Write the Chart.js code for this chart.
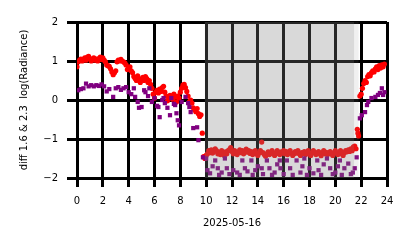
<!DOCTYPE html>
<html><head><meta charset="utf-8">
<script src="https://cdn.jsdelivr.net/npm/chart.js@4"></script>
<style>html,body{margin:0;padding:0;background:#fff}#w{width:414px;height:248px}</style>
</head><body><div id="w"><canvas id="c" width="414" height="248"></canvas></div>
<script>
const xTicks = [0,2,4,6,8,10,12,14,16,18,20,22,24];
const yTicks = [-2,-1,0,1,2];
const xTitle = "2025-05-16";
const yTitle = "diff 1.6 & 2.3  log(Radiance)";
const nightSpan = [9.9, 21.45];
const twilightSpan = [21.45, 21.8];

const redHours = [
0.0,0.1,0.2,0.3,0.4,0.5,0.6,0.7,0.8,0.9,
1.0,1.1,1.2,1.3,1.4,1.5,1.6,1.7,1.8,1.9,
2.0,2.1,2.2,2.3,2.4,2.5,2.6,2.7,2.8,2.9,
3.0,3.1,3.2,3.3,3.4,3.5,3.6,3.7,3.8,3.9,
4.0,4.1,4.2,4.3,4.4,4.5,4.6,4.7,4.8,4.9,
5.0,5.1,5.2,5.3,5.4,5.5,5.6,5.7,5.8,5.9,
6.0,6.1,6.2,6.3,6.4,6.5,6.6,6.7,6.8,6.9,
7.0,7.1,7.2,7.3,7.4,7.5,7.6,7.7,7.8,7.9,
8.0,8.1,8.2,8.3,8.4,8.5,8.6,8.7,8.8,8.9,
9.0,9.1,9.2,9.3,9.4,9.5,9.6,9.7,9.8,9.9,
10.0,10.1,10.2,10.3,10.4,10.5,10.6,10.7,10.8,10.9,
11.0,11.1,11.2,11.3,11.4,11.5,11.6,11.7,11.8,11.9,
12.0,12.1,12.2,12.3,12.4,12.5,12.6,12.7,12.8,12.9,
13.0,13.1,13.2,13.3,13.4,13.5,13.6,13.7,13.8,13.9,
14.0,14.1,14.2,14.3,14.4,14.5,14.6,14.7,14.8,14.9,
15.0,15.1,15.2,15.3,15.4,15.5,15.6,15.7,15.8,15.9,
16.0,16.1,16.2,16.3,16.4,16.5,16.6,16.7,16.8,16.9,
17.0,17.1,17.2,17.3,17.4,17.5,17.6,17.7,17.8,17.9,
18.0,18.1,18.2,18.3,18.4,18.5,18.6,18.7,18.8,18.9,
19.0,19.1,19.2,19.3,19.4,19.5,19.6,19.7,19.8,19.9,
20.0,20.1,20.2,20.3,20.4,20.5,20.6,20.7,20.8,20.9,
21.0,21.1,21.2,21.3,21.4,21.5,21.6,21.7,21.75,21.8,21.9,
22.0,22.1,22.2,22.3,22.4,22.5,22.6,22.7,22.8,22.9,
23.0,23.1,23.2,23.3,23.4,23.5,23.6,23.7,23.8
];
const redValues = [
0.85,0.98,1.02,1.05,1.00,1.04,1.08,1.02,1.10,1.12,
1.06,1.00,1.04,1.08,1.02,1.05,1.00,1.06,1.10,1.04,
1.08,1.02,0.98,0.90,0.88,0.86,0.80,0.72,0.65,0.70,
0.75,0.98,1.02,1.00,1.04,1.00,0.98,0.95,0.90,0.78,
0.82,0.85,0.75,0.70,0.60,0.55,0.50,0.62,0.55,0.45,
0.52,0.58,0.50,0.60,0.55,0.45,0.50,0.40,0.30,0.15,
0.05,0.20,0.25,0.18,0.28,0.22,0.32,0.35,0.20,0.10,
-0.02,0.05,0.12,0.10,0.02,0.15,0.08,-0.05,0.10,0.05,
0.20,0.30,0.38,0.40,0.32,0.22,0.10,-0.05,0.00,-0.08,
-0.20,-0.25,-0.30,-0.22,-0.35,-0.42,-0.38,-0.85,-1.45,-1.50,
-1.42,-1.38,-1.30,-1.35,-1.28,-1.36,-1.32,-1.25,-1.30,-1.38,
-1.34,-1.40,-1.30,-1.36,-1.42,-1.33,-1.38,-1.30,-1.27,-1.22,
-1.32,-1.38,-1.30,-1.35,-1.40,-1.33,-1.28,-1.35,-1.30,-1.38,
-1.32,-1.26,-1.34,-1.30,-1.37,-1.32,-1.40,-1.35,-1.30,-1.38,
-1.42,-1.36,-1.30,-1.08,-1.35,-1.40,-1.44,-1.38,-1.33,-1.40,
-1.36,-1.30,-1.38,-1.42,-1.35,-1.30,-1.37,-1.40,-1.33,-1.36,
-1.30,-1.38,-1.32,-1.40,-1.35,-1.30,-1.36,-1.42,-1.38,-1.32,
-1.36,-1.30,-1.37,-1.42,-1.35,-1.38,-1.32,-1.40,-1.35,-1.30,
-1.38,-1.42,-1.36,-1.30,-1.34,-1.40,-1.36,-1.32,-1.38,-1.43,
-1.35,-1.30,-1.38,-1.34,-1.40,-1.36,-1.32,-1.38,-1.42,-1.35,
-1.30,-1.36,-1.40,-1.34,-1.30,-1.38,-1.42,-1.35,-1.30,-1.33,
-1.28,-1.32,-1.25,-1.30,-1.20,-1.18,-1.25,-0.75,-0.85,-0.92,0.10,
0.15,0.30,0.42,0.50,0.45,0.60,0.65,0.62,0.70,0.75,
0.72,0.80,0.85,0.78,0.88,0.82,0.90,0.85,0.92
];

const purpleHours = [
0.1,0.3,0.5,0.7,0.9,1.1,1.3,1.5,1.7,1.9,
2.1,2.3,2.5,2.8,3.0,3.2,3.4,3.6,3.8,4.0,
4.2,4.4,4.5,4.7,4.8,5.0,5.2,5.3,5.5,5.6,
5.8,6.0,6.2,6.3,6.4,6.6,6.7,6.8,7.0,7.2,
7.3,7.5,7.6,7.7,7.8,7.9,8.1,8.4,8.6,8.7,
8.8,9.0,9.3,9.4,9.75,10.0,10.1,10.3,10.5,10.7,
10.9,11.0,11.2,11.45,11.6,11.8,12.1,12.4,12.6,12.8,
13.0,13.2,13.5,13.6,13.8,14.0,14.3,14.4,14.7,14.9,
15.1,15.3,15.5,15.7,15.75,16.0,16.25,16.5,16.7,17.0,
17.3,17.45,17.6,17.8,18.0,18.3,18.6,18.7,18.9,19.1,
19.35,19.6,19.8,20.0,20.2,20.35,20.5,20.7,21.0,21.2,
21.35,21.5,21.65,21.9,22.05,22.3,22.45,22.55,22.8,23.1,
23.3,23.45,23.6,23.7,23.8
];
const purpleValues = [
0.25,0.28,0.30,0.42,0.35,0.38,0.35,0.38,0.36,0.40,
0.35,0.22,0.28,0.08,0.30,0.33,0.26,0.30,0.33,0.20,
0.15,0.30,0.08,-0.05,-0.20,-0.18,0.25,0.20,0.10,0.30,
-0.05,0.05,-0.15,-0.18,-0.44,0.00,0.05,-0.08,-0.20,-0.39,
0.05,-0.10,-0.13,-0.34,-0.52,-0.65,-0.05,0.08,-0.08,-0.18,
-0.31,-0.72,-0.70,-1.03,-1.47,-1.50,-1.80,-1.88,-1.70,-1.55,
-1.75,-1.92,-1.86,-1.50,-1.75,-1.90,-1.80,-1.86,-1.92,-1.55,
-1.75,-1.83,-1.55,-1.92,-1.80,-1.70,-1.75,-1.90,-1.55,-1.75,
-1.92,-1.86,-1.65,-1.55,-1.75,-1.90,-1.55,-1.75,-1.92,-1.55,
-1.86,-1.70,-1.50,-1.92,-1.75,-1.88,-1.55,-1.80,-1.92,-1.65,
-1.50,-1.75,-1.90,-1.86,-1.70,-1.55,-1.92,-1.75,-1.63,-1.90,
-1.86,-1.75,-1.47,-0.47,-0.39,-0.31,-0.13,-0.05,0.05,0.08,
0.13,0.18,0.30,0.13,0.20
];

const toPts = (xs, ys) => xs.map((x, i) => ({x: x, y: ys[i]}));

const shadePlugin = {
  id: 'shade',
  afterDatasetsDraw(chart) {
    const {ctx, chartArea, scales} = chart;
    const xs = scales.x;
    ctx.save();
    ctx.fillStyle = 'rgba(128,128,128,0.3)';
    let a = xs.getPixelForValue(nightSpan[0]), b = xs.getPixelForValue(nightSpan[1]);
    ctx.fillRect(a, chartArea.top, b - a, chartArea.bottom - chartArea.top);
    ctx.fillStyle = 'rgba(128,128,128,0.12)';
    a = xs.getPixelForValue(twilightSpan[0]); b = xs.getPixelForValue(twilightSpan[1]);
    ctx.fillRect(a, chartArea.top, b - a, chartArea.bottom - chartArea.top);
    ctx.restore();
  }
};

const font = {family: '"DejaVu Sans", sans-serif', size: 10};

new Chart(document.getElementById('c'), {
  type: 'scatter',
  data: {
    datasets: [
      {label: 'diff 2.3', data: toPts(purpleHours, purpleValues), order: 0,
       pointStyle: 'rect', pointRadius: 3, backgroundColor: '#800080', borderWidth: 0},
      {label: 'diff 1.6', data: toPts(redHours, redValues), order: 1,
       pointStyle: 'circle', pointRadius: 2.6, backgroundColor: '#ff0000', borderWidth: 0}
    ]
  },
  options: {
    responsive: false,
    animation: false,
    devicePixelRatio: 1,
    layout: {padding: {left: 14, right: 27, top: 22, bottom: 15}},
    plugins: {legend: {display: false}, tooltip: {enabled: false}},
    scales: {
      x: {
        type: 'linear', min: 0, max: 24, z: 1,
        afterBuildTicks: s => { s.ticks = xTicks.map(v => ({value: v})); },
        afterFit: s => { s.height = 55; },
        grid: {color: '#000', lineWidth: 3, tickLength: 9, drawTicks: true},
        border: {display: false},
        ticks: {color: '#000', font: font, padding: 8, maxRotation: 0},
        title: {display: true, text: xTitle, color: '#000', font: font, padding: {top: 4, bottom: 4}}
      },
      y: {
        type: 'linear', min: -2, max: 2, z: 1,
        afterBuildTicks: s => { s.ticks = yTicks.map(v => ({value: v})); },
        afterFit: s => { s.width = 63; },
        grid: {color: '#000', lineWidth: 3, tickLength: 10, drawTicks: true},
        border: {display: false},
        ticks: {color: '#000', font: font, padding: 9,
          callback: v => v < 0 ? '\u2212' + Math.abs(v) : String(v)},
        title: {display: true, text: yTitle, color: '#000', font: font, padding: {top: 4, bottom: 4}}
      }
    }
  },
  plugins: [shadePlugin]
});
</script></body></html>
